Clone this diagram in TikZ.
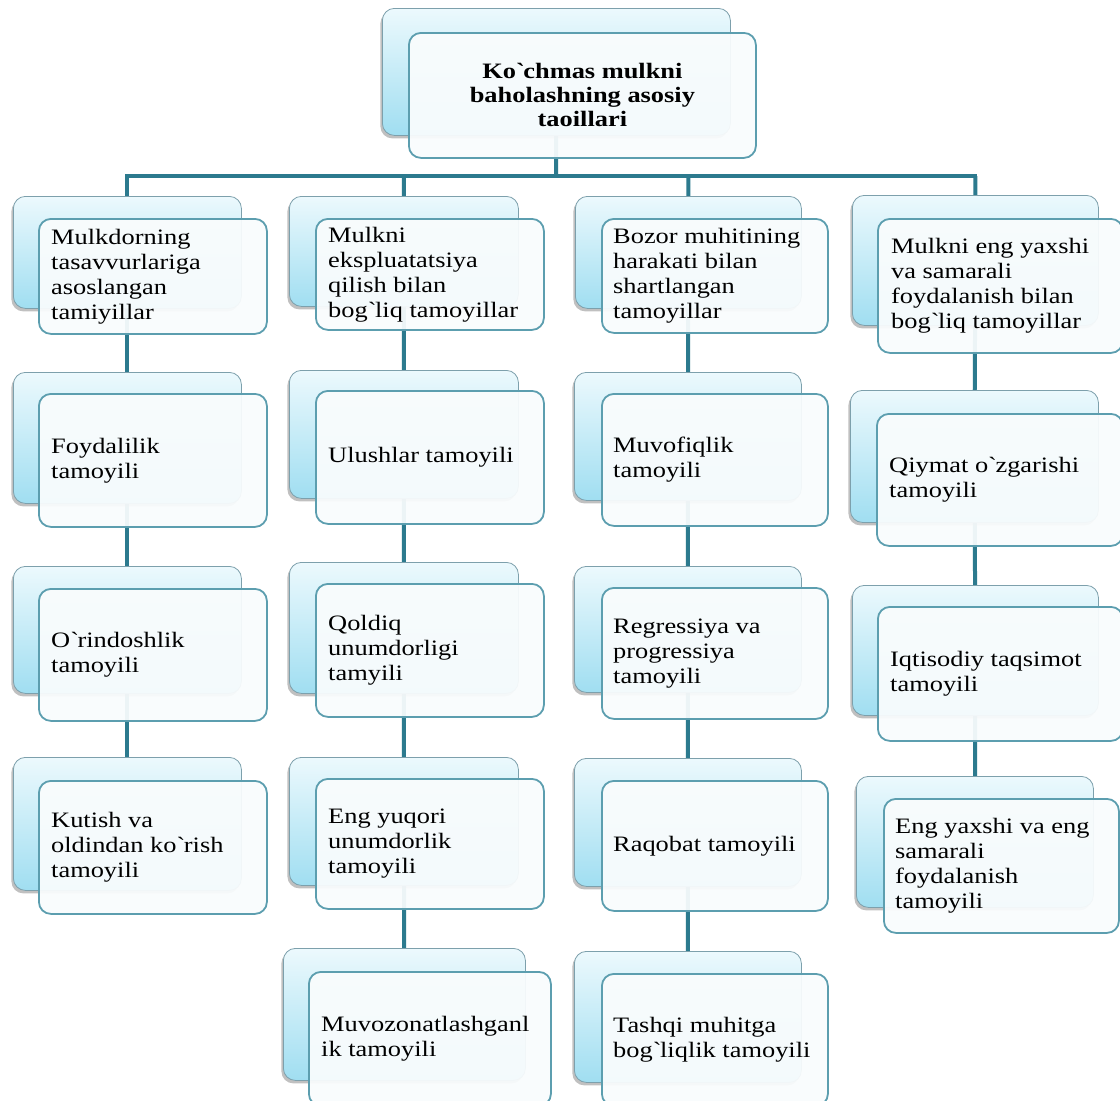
\documentclass[tikz,border=0pt]{standalone}
\usepackage{fontspec}
\setmainfont{Liberation Serif}[FakeStretch=1.2]
\usetikzlibrary{shadows}
\definecolor{connc}{RGB}{44,122,142}
\definecolor{fborder}{RGB}{92,158,175}
\definecolor{bborder}{RGB}{125,160,172}
\definecolor{btop}{RGB}{236,249,253}
\definecolor{bbot}{RGB}{160,222,241}
\definecolor{ffill}{RGB}{249,252,253}
\newcommand{\bq}{\textasciigrave}
\pgfdeclarelayer{bglayer}
\pgfdeclarelayer{linelayer}
\pgfsetlayers{bglayer,linelayer,main}
\tikzset{
 backbox/.style={draw=bborder, line width=0.8pt, rounded corners=12pt,
   top color=btop, bottom color=bbot,
   drop shadow={shadow xshift=-2pt, shadow yshift=-3pt, opacity=0.35, fill=black!70},
   anchor=north west, inner sep=0pt},
 frontbox/.style={draw=fborder, line width=1.8pt, rounded corners=12pt,
   fill=ffill, fill opacity=0.94, anchor=north west, inner sep=0pt},
 lbl/.style={anchor=west, align=left, inner sep=0pt, font=\fontsize{22}{25}\selectfont, text=black},
 ttl/.style={align=center, inner sep=0pt, font=\fontsize{22}{24}\selectfont\bfseries, text=black},
 connline/.style={draw=connc, line width=4pt},
}
\newcommand\backnode[5]{\node[backbox, minimum width={#4-#2}, minimum height={#5-#3}] (#1) at (#2,#3) {};}
\newcommand\frontnode[5]{\node[frontbox, minimum width={#4-#2}, minimum height={#5-#3}] (#1) at (#2,#3) {};}
\begin{document}
\begin{tikzpicture}[x=1pt,y=-1pt]
\begin{pgfonlayer}{bglayer}
\fill[white] (0,0) rectangle (1120,1101);
\end{pgfonlayer}
\useasboundingbox (0,0) rectangle (1120,1101);

% top
\backnode{topb}{382}{8}{730}{135}
\frontnode{topf}{408}{32}{755}{157}
\node[ttl] (topt) at (topf.center) {Ko\bq chmas mulkni\\baholashning asosiy\\taoillari};

% column 1
\backnode{c1r1b}{13}{196}{241}{308}
\frontnode{c1r1f}{38}{218}{266}{333}
\node[lbl] (c1r1t) at ([xshift=13pt]c1r1f.west) {Mulkdorning\\tasavvurlariga\\asoslangan\\tamiyillar};
\backnode{c1r2b}{13}{372}{241}{503}
\frontnode{c1r2f}{38}{393}{266}{526}
\node[lbl] (c1r2t) at ([xshift=13pt]c1r2f.west) {Foydalilik\\tamoyili};
\backnode{c1r3b}{13}{566}{241}{693}
\frontnode{c1r3f}{38}{588}{266}{720}
\node[lbl] (c1r3t) at ([xshift=13pt]c1r3f.west) {O\bq rindoshlik\\tamoyili};
\backnode{c1r4b}{13}{757}{241}{890}
\frontnode{c1r4f}{38}{780}{266}{913}
\node[lbl] (c1r4t) at ([xshift=13pt]c1r4f.west) {Kutish va\\oldindan ko\bq rish\\tamoyili};

% column 2
\backnode{c2r1b}{289}{196}{518}{306}
\frontnode{c2r1f}{315}{218}{543}{329}
\node[lbl] (c2r1t) at ([xshift=13pt]c2r1f.west) {Mulkni\\ekspluatatsiya\\qilish bilan\\bog\bq liq tamoyillar};
\backnode{c2r2b}{289}{370}{518}{498}
\frontnode{c2r2f}{315}{390}{543}{523}
\node[lbl] (c2r2t) at ([xshift=13pt]c2r2f.west) {Ulushlar tamoyili};
\backnode{c2r3b}{289}{562}{518}{693}
\frontnode{c2r3f}{315}{583}{543}{716}
\node[lbl] (c2r3t) at ([xshift=13pt]c2r3f.west) {Qoldiq\\unumdorligi\\tamyili};
\backnode{c2r4b}{289}{757}{518}{885}
\frontnode{c2r4f}{315}{778}{543}{908}
\node[lbl] (c2r4t) at ([xshift=13pt]c2r4f.west) {Eng yuqori\\unumdorlik\\tamoyili};
\backnode{c2r5b}{283}{948}{525}{1080}
\frontnode{c2r5f}{308}{971}{550}{1105}
\node[lbl] (c2r5t) at ([xshift=13pt]c2r5f.west) {Muvozonatlashganl\\ik tamoyili};

% column 3
\backnode{c3r1b}{575}{196}{801}{308}
\frontnode{c3r1f}{601}{218}{827}{332}
\node[lbl] (c3r1t) at ([xshift=12pt]c3r1f.west) {Bozor muhitining\\harakati bilan\\shartlangan\\tamoyillar};
\backnode{c3r2b}{574}{372}{801}{500}
\frontnode{c3r2f}{601}{393}{827}{525}
\node[lbl] (c3r2t) at ([xshift=12pt]c3r2f.west) {Muvofiqlik\\tamoyili};
\backnode{c3r3b}{574}{566}{801}{692}
\frontnode{c3r3f}{601}{587}{827}{718}
\node[lbl] (c3r3t) at ([xshift=12pt]c3r3f.west) {Regressiya va\\progressiya\\tamoyili};
\backnode{c3r4b}{574}{758}{801}{886}
\frontnode{c3r4f}{601}{780}{827}{910}
\node[lbl] (c3r4t) at ([xshift=12pt]c3r4f.west) {Raqobat tamoyili};
\backnode{c3r5b}{574}{951}{801}{1082}
\frontnode{c3r5f}{601}{973}{827}{1105}
\node[lbl] (c3r5t) at ([xshift=12pt]c3r5f.west) {Tashqi muhitga\\bog\bq liqlik tamoyili};

% column 4
\backnode{c4r1b}{852}{195}{1098}{325}
\frontnode{c4r1f}{877}{218}{1122}{352}
\node[lbl] (c4r1t) at ([xshift=14pt]c4r1f.west) {Mulkni eng yaxshi\\va samarali\\foydalanish bilan\\bog\bq liq tamoyillar};
\backnode{c4r2b}{850}{390}{1098}{522}
\frontnode{c4r2f}{876}{413}{1122}{545}
\node[lbl] (c4r2t) at ([xshift=13pt]c4r2f.west) {Qiymat o\bq zgarishi\\tamoyili};
\backnode{c4r3b}{852}{585}{1098}{715}
\frontnode{c4r3f}{877}{606}{1122}{740}
\node[lbl] (c4r3t) at ([xshift=13pt]c4r3f.west) {Iqtisodiy taqsimot\\tamoyili};
\backnode{c4r4b}{856}{776}{1093}{907}
\frontnode{c4r4f}{883}{798}{1118}{932}
\node[lbl] (c4r4t) at ([xshift=12pt]c4r4f.west) {Eng yaxshi va eng\\samarali\\foydalanish\\tamoyili};

% connectors
\coordinate (j) at (556,176);
\begin{pgfonlayer}{linelayer}
\draw[connline] (topb.center) -- (j);
\draw[connline, line cap=rect] (c1r1b.center |- j) -- (c4r1b.center |- j);
\draw[connline] (c1r1b.center |- j) -- (c1r1b.center) -- (c1r2b.center) -- (c1r3b.center) -- (c1r4b.center);
\draw[connline] (c2r1b.center |- j) -- (c2r1b.center) -- (c2r2b.center) -- (c2r3b.center) -- (c2r4b.center) -- (c2r5b.center);
\draw[connline] (c3r1b.center |- j) -- (c3r1b.center) -- (c3r2b.center) -- (c3r3b.center) -- (c3r4b.center) -- (c3r5b.center);
\draw[connline] (c4r1b.center |- j) -- (c4r1b.center) -- (c4r2b.center) -- (c4r3b.center) -- (c4r4b.center);
\end{pgfonlayer}
\end{tikzpicture}
\end{document}
